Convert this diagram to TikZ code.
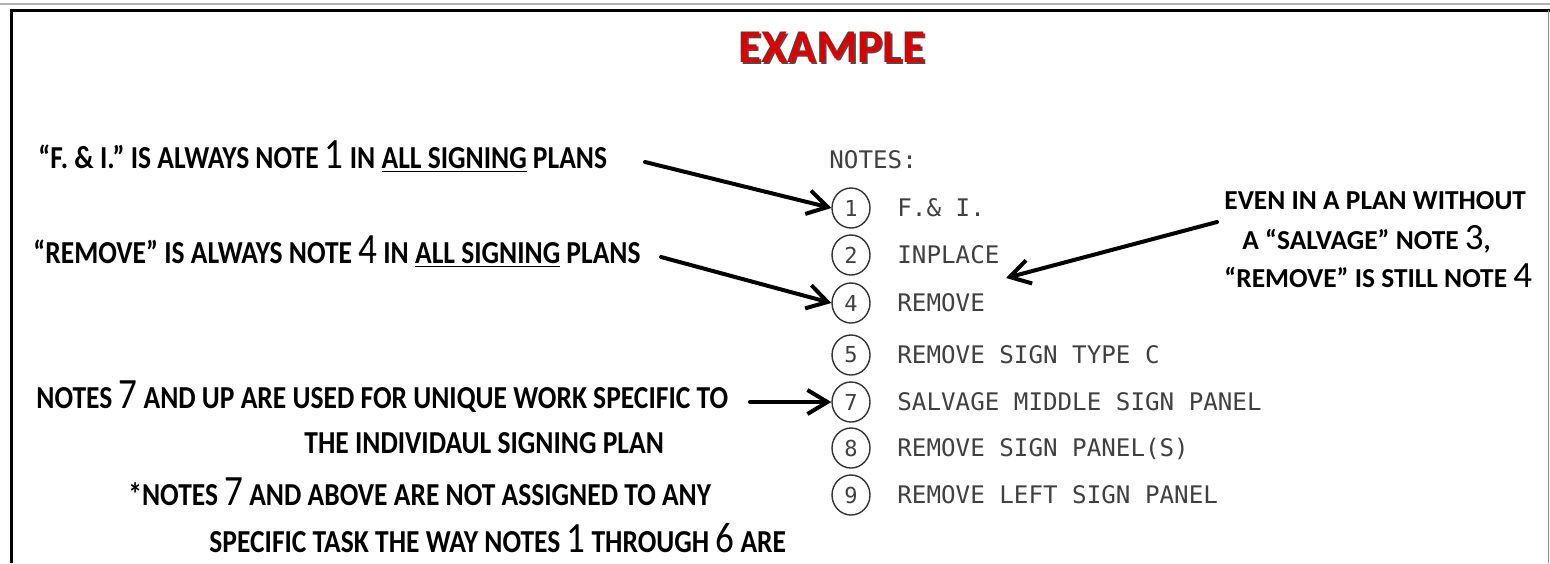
\documentclass[tikz,border=0pt]{standalone}
\usepackage{fontspec}
\setmainfont{Carlito}
\newfontfamily\calloutfont{Carlito}[FakeStretch=0.86]
\newfontfamily\cadfont{DejaVu Sans Mono}
\usetikzlibrary{arrows.meta,shapes.geometric}

\newcommand{\bignum}[1]{\scalebox{1.35}{\mdseries #1}}

\tikzset{
  callout/.style={anchor=base west, inner sep=0pt, font=\calloutfont\fontsize{16}{19}\selectfont\bfseries},
  remark/.style={anchor=base west, inner sep=0pt, font=\fontsize{13.7}{16}\selectfont\bfseries},
  notenum/.style={ellipse, draw=black!80, line width=0.7pt, minimum width=19pt, minimum height=20pt,
    inner sep=0pt, font=\cadfont\fontsize{11}{11}\selectfont, text=black!75},
  notetext/.style={anchor=base west, inner sep=0pt, font=\cadfont\fontsize{12.1}{14}\selectfont, text=black!75},
  pointer/.style={line width=2pt, line cap=round, -{Straight Barb[length=10pt,width=12pt]}},
}

\begin{document}
\begin{tikzpicture}[x=0.5pt,y=-0.5pt]
\useasboundingbox (0,0) rectangle (1550,563);

% frame
\draw[black!30, line width=1pt] (0,4) -- (1550,4);
\draw[line width=1.5pt] (11,563) -- (11,10) -- (1550,10);
\draw[black!45, line width=0.8pt] (1548.5,10) -- (1548.5,563);

% heading
\node[text=black!70, font=\fontsize{23.5}{24}\selectfont\bfseries] (titleshadow) at (834,49) {EXAMPLE};
\node[text=red!85!black, font=\fontsize{23.5}{24}\selectfont\bfseries] (title) at (832,47) {EXAMPLE};

% notes list
\node[notetext] (notes) at (829,168) {NOTES:};
\foreach \n/\y/\txt in {1/208/F.\& I., 2/255/INPLACE, 4/303/REMOVE, 5/355/REMOVE SIGN TYPE C,
    7/402/SALVAGE MIDDLE SIGN PANEL, 8/448/REMOVE SIGN PANEL(S), 9/495/REMOVE LEFT SIGN PANEL}{
  \node[notenum] (c\n) at (851,\y) {\n};
  \node[notetext] (t\n) at (897,\y+8) {\txt};
}

% callouts on the left
\node[callout] (fi) at (38,168) {“F. \& I.” IS ALWAYS NOTE \bignum{1} IN \underline{ALL SIGNING} PLANS};
\node[callout] (rm) at (33,263) {“REMOVE” IS ALWAYS NOTE \bignum{4} IN \underline{ALL SIGNING} PLANS};
\node[callout] (up) at (36,408) {NOTES \bignum{7} AND UP ARE USED FOR UNIQUE WORK SPECIFIC TO};
\node[callout] (plan) at (304,453) {THE INDIVIDAUL SIGNING PLAN};
\node[callout] (star) at (128,505) {*NOTES \bignum{7} AND ABOVE ARE NOT ASSIGNED TO ANY};
\node[callout] (task) at (209,552) {SPECIFIC TASK THE WAY NOTES \bignum{1} THROUGH \bignum{6} ARE};

% remark on the right
\node[remark] (even) at (1224,209) {EVEN IN A PLAN WITHOUT};
\node[remark] (salv) at (1242,249) {A “SALVAGE” NOTE \bignum{3},};
\node[remark] (still) at (1224,287) {“REMOVE” IS STILL NOTE \bignum{4}};

% arrows
\coordinate (a1) at (645,162);
\coordinate (a2) at (661,257);
\coordinate (a3) at (750,402);
\coordinate (a4) at (1217,222);
\coordinate (a4tip) at (1006,278);
\draw[pointer] (a1) -- (c1.west);
\draw[pointer] (a2) -- (c4.west);
\draw[pointer] (a3) -- (c7.west);
\draw[pointer] (a4) -- (a4tip);
\end{tikzpicture}
\end{document}
